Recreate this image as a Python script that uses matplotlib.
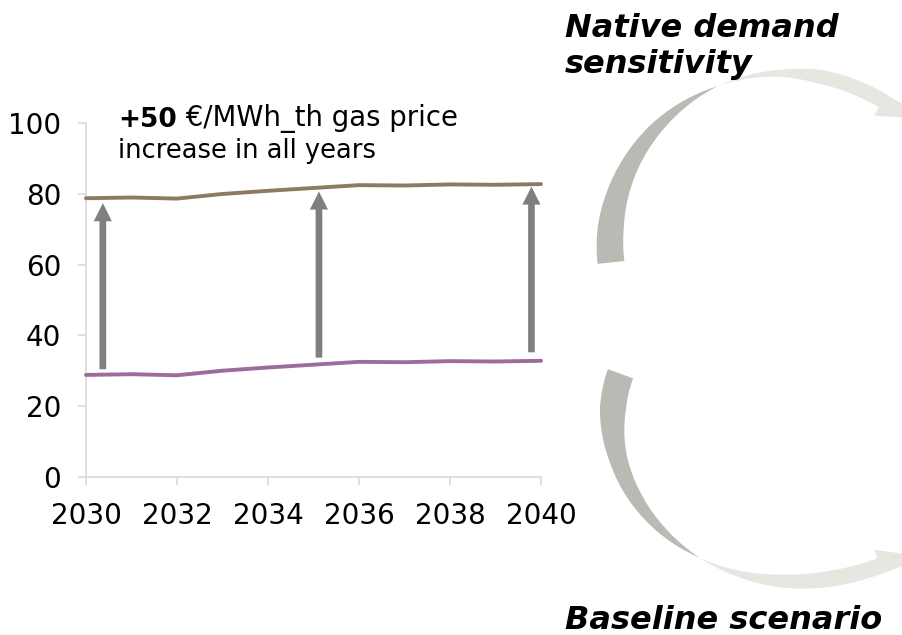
import numpy as np
import matplotlib
matplotlib.use("Agg")
import matplotlib.pyplot as plt
from matplotlib.patches import Polygon, FancyArrowPatch

# ---- data -------------------------------------------------------------
years = list(range(2030, 2041))
baseline_price = [28.8, 29.0, 28.7, 30.0, 30.9, 31.7, 32.5, 32.4, 32.7, 32.6, 32.8]
price_uplift = 50
sensitivity_price = [v + price_uplift for v in baseline_price]

arrow_years = [2030.37, 2035.12, 2039.79]
arrow_from = [30.4, 33.7, 35.2]
arrow_to = [77.4, 80.7, 82.1]

x_ticks = [2030, 2032, 2034, 2036, 2038, 2040]
y_ticks = [0, 20, 40, 60, 80, 100]

# ---- style ------------------------------------------------------------
W, H = 902, 635
SENS_COLOR = "#8C7B62"
BASE_COLOR = "#9C6C9C"
ARROW_COLOR = "#7F7F7F"
AXIS_COLOR = "#D9D9D9"
DARK_BAND = "#BAB9B3"
LIGHT_BAND = "#E8E6E0"
TICK_FS = 20

fig = plt.figure(figsize=(W / 100, H / 100), dpi=100)
fig.patch.set_facecolor("white")

# full-figure overlay in pixel units for the decorative curved arrows and titles
ov = fig.add_axes([0, 0, 1, 1], zorder=0)
ov.set_xlim(0, W)
ov.set_ylim(H, 0)
ov.axis("off")


def curved_arrow(ax, center, guide, widths, twist_idx, head_len, barb, n=400):
    """Tapered band swept around `center`; guide = [(x, y), ...] from tail to head."""
    cx, cy = center
    g = np.asarray(guide, float)
    th_g = np.unwrap(np.arctan2(-(g[:, 1] - cy), g[:, 0] - cx))
    r_g = np.hypot(g[:, 0] - cx, g[:, 1] - cy)
    coef = np.polyfit(th_g, r_g, 3)
    th = np.linspace(th_g[0], th_g[-1], n)
    r = np.polyval(coef, th)
    c = np.column_stack([cx + r * np.cos(th), cy - r * np.sin(th)])
    order = np.argsort(th_g)
    w = np.interp(th, th_g[order], np.asarray(widths, float)[order])
    tan = np.gradient(c, axis=0)
    tan /= np.linalg.norm(tan, axis=1)[:, None]
    to_c = np.column_stack([cx - c[:, 0], cy - c[:, 1]])
    nrm = np.column_stack([-tan[:, 1], tan[:, 0]])
    sign = np.sign(np.sum(nrm * to_c, axis=1))[:, None]
    ni = nrm * sign  # unit normal towards the inside of the bend
    inner = c + (w / 2)[:, None] * ni
    outer = c - (w / 2)[:, None] * ni
    k = int(np.argmin(np.abs(th - th_g[twist_idx])))
    dark = np.vstack([outer[:k + 1], inner[:k + 1][::-1]])
    ax.add_patch(Polygon(dark, closed=True, facecolor=DARK_BAND, edgecolor="none"))
    E, d, nE = c[-1], tan[-1], ni[-1]
    tip = E + head_len * d - (w[-1] / 2) * nE
    barb_pt = E + barb * nE
    light = np.vstack([outer[k:], tip[None], barb_pt[None], inner[k:][::-1]])
    ax.add_patch(Polygon(light, closed=True, facecolor=LIGHT_BAND, edgecolor="none"))


# upper arrow: from the left side up and round to the right
curved_arrow(
    ov, (800, 235),
    [(614, 262), (608, 227), (623, 170), (660, 127), (720, 90),
     (780, 74), (820, 73), (858, 85), (881, 104)],
    [27, 26, 19, 12, 0, 7, 14, 15, 15],
    twist_idx=4, head_len=48, barb=17,
)
# lower arrow: from the left side down and round to the right
curved_arrow(
    ov, (810, 390),
    [(623, 374), (612, 410), (614, 462), (632, 497), (665, 527), (703, 553),
     (780, 584), (830, 583), (862, 572), (879, 563)],
    [27, 26, 18, 14, 8, 0, 13, 16, 16, 16],
    twist_idx=5, head_len=48, barb=17,
)

title_kw = dict(fontsize=23, fontweight="bold", fontstyle="italic",
                family="DejaVu Sans", va="baseline", ha="left", color="black")
ov.text(565, 37, "Native demand", **title_kw)
ov.text(565, 73, "sensitivity", **title_kw)
ov.text(565, 629, "Baseline scenario", **title_kw)

# ---- line chart ---------------------------------------------------------
x0, x1, yb, yt = 86, 541, 476.7, 123.3
ax = fig.add_axes([x0 / W, 1 - yb / H, (x1 - x0) / W, (yb - yt) / H], zorder=2)
ax.set_facecolor("none")
ax.set_xlim(2030, 2040)
ax.set_ylim(0, 100)
ax.set_xticks(x_ticks)
ax.set_yticks(y_ticks)
for s in ("top", "right"):
    ax.spines[s].set_visible(False)
for s in ("left", "bottom"):
    ax.spines[s].set_color(AXIS_COLOR)
    ax.spines[s].set_linewidth(1.2)
ax.tick_params(length=6, width=1.2, color=AXIS_COLOR, labelsize=TICK_FS, pad=12,
               labelcolor="black")

ax.plot(years, sensitivity_price, color=SENS_COLOR, lw=2.8,
        solid_capstyle="round", clip_on=False, zorder=3)
ax.plot(years, baseline_price, color=BASE_COLOR, lw=2.8,
        solid_capstyle="round", clip_on=False, zorder=3)

for xa, y0, y1 in zip(arrow_years, arrow_from, arrow_to):
    ax.add_patch(FancyArrowPatch(
        (xa, y0), (xa, y1),
        arrowstyle="simple,head_width=13,head_length=13,tail_width=4.8",
        mutation_scale=1, shrinkA=0, shrinkB=0,
        facecolor=ARROW_COLOR, edgecolor="none", zorder=4))

t_bold = ov.text(118, 127, "+50", fontsize=19, fontweight="bold",
                 va="baseline", ha="left", zorder=5)
ov.annotate(" €/MWh_th gas price", xy=(1, 0), xycoords=t_bold,
            fontsize=19.8, va="bottom", ha="left", zorder=5)
ov.text(118, 158, "increase in all years", fontsize=18.5,
        va="baseline", ha="left", zorder=5)

fig.savefig("out.png", dpi=100)
